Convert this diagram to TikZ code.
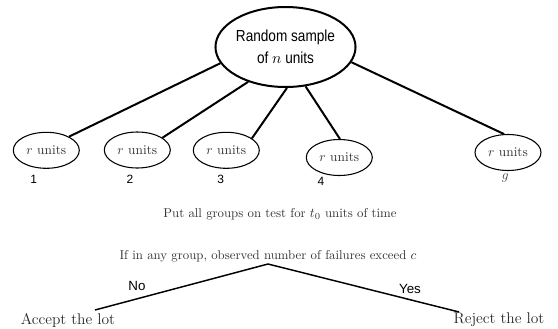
\documentclass[tikz,border=0pt]{standalone}
\usepackage{amsmath}
\usepackage{fontspec}
\usepackage{tikz}
\usetikzlibrary{shapes.geometric}
\newfontfamily\samplesans[FakeStretch=0.85]{Liberation Sans}
\newfontfamily\tagsans{Liberation Sans}

\begin{document}
\begin{tikzpicture}[x=0.75pt, y=-0.75pt,
    group/.style={draw, ellipse, line width=0.8pt, minimum width=49.5pt, minimum height=27pt, inner sep=0pt, text=black!80},
    grouptag/.style={font=\tagsans\fontsize{9}{10}\selectfont},
    trunk/.style={line width=1.5pt},
    branch/.style={line width=1.1pt},
    answer/.style={font=\tagsans\fontsize{10}{12}\selectfont},
    verdict/.style={font=\fontsize{11.6}{13}\selectfont, text=black!85}]
    \useasboundingbox (0,0) rectangle (558,329);

    % Sample
    \node[draw, ellipse, line width=1.5pt, minimum width=102.75pt, minimum height=60pt, inner sep=0pt, align=center,
          font=\samplesans\fontsize{12}{16.5}\selectfont] (sample) at (285.5,47)
        {Random sample\\ of $n$ units};

    % Groups
    \node[group] (grp1) at (46.3,150.3) {$r$ units};
    \node[group] (grp2) at (137.3,150) {$r$ units};
    \node[group] (grp3) at (226.3,150.3) {$r$ units};
    \node[group] (grp4) at (339.3,157.5) {$r$ units};
    \node[group] (grpg) at (508,152.5) {$r$ units};

    \node[grouptag] (tag1) at (33.8,179) {1};
    \node[grouptag] (tag2) at (130,179) {2};
    \node[grouptag] (tag3) at (220.7,179) {3};
    \node[grouptag] (tag4) at (321,181) {4};
    \node[text=black!70] (tagg) at (505.4,178) {$g$};

    \draw[trunk] (sample.194) -- (grp1.31);
    \draw[trunk] (sample.223) -- (grp2.26);
    \draw[trunk] (sample.272) -- (grp3.25);
    \draw[trunk] (sample.297) -- (grp4.88);
    \draw[trunk] (sample.347) -- (grpg.102);

    % Test and decision
    \node[font=\fontsize{9.6}{11}\selectfont, text=black!80] (test) at (280,214)
        {Put all groups on test for $t_0$ units of time};
    \node[anchor=south, inner sep=1pt, font=\fontsize{9.6}{11}\selectfont, text=black!80] (rule) at (268,264)
        {If in any group, observed number of failures exceed $c$};

    \node[verdict] (accept) at (68,320) {Accept the lot};
    \node[verdict] (reject) at (499,320) {Reject the lot};
    \coordinate (acceptend) at (95,310);
    \coordinate (rejectend) at (459,312);

    \draw[branch] (rule.south) -- (acceptend);
    \draw[branch] (rule.south) -- (rejectend);
    \node[answer] (no) at (137,286) {No};
    \node[answer] (yes) at (410,289) {Yes};
\end{tikzpicture}
\end{document}
